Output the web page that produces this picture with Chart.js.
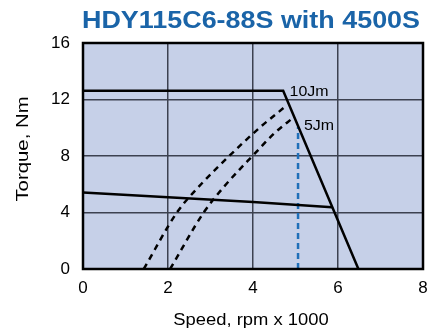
<!DOCTYPE html>
<html><head><meta charset="utf-8">
<script src="https://cdn.jsdelivr.net/npm/chart.js@4/dist/chart.umd.min.js"></script>
<style>html,body{margin:0;padding:0;background:#fff}</style>
</head><body>
<canvas id="c" width="440" height="331"></canvas>
<script>
const chartTitle = 'HDY115C6-88S with 4500S';
const xTitle = 'Speed, rpm x 1000';
const yTitle = 'Torque, Nm';
const xTicks = [0, 2, 4, 6, 8];
const yTicks = [0, 4, 8, 12, 16];
const peakSpeed = [0, 4.71, 6.48];
const peakTorque = [12.62, 12.62, 0];
const contSpeed = [0, 2, 4, 5.86];
const contTorque = [5.42, 5.08, 4.75, 4.38];
const j10Speed = [1.43, 2.21, 2.8, 3.44, 4.17, 4.74];
const j10Torque = [0, 4, 6.07, 8, 10.04, 11.45];
const j5Speed = [2.05, 2.84, 3.31, 4.05, 4.5, 4.96];
const j5Torque = [0, 4, 5.8, 8.2, 9.6, 10.75];
const markSpeed = [5.06, 5.06];
const markTorque = [0, 10.05];
const curveLabels = ['10Jm', '5Jm'];
const labelSpeed = [4.86, 5.2];
const labelTorque = [12.65, 10.2];

const FONT = '"Liberation Sans", Arial, sans-serif';
const pts = (xs, ys) => xs.map((x, i) => ({x, y: ys[i]}));

function stretchText(ctx, text, x, y, size, weight, sx, color, align, rot) {
  ctx.save();
  ctx.translate(x, y);
  if (rot) ctx.rotate(rot);
  ctx.scale(sx, 1);
  ctx.font = weight + ' ' + size + 'px ' + FONT;
  ctx.fillStyle = color;
  ctx.textAlign = align;
  ctx.textBaseline = 'alphabetic';
  ctx.fillText(text, 0, 0);
  ctx.restore();
}

const bgPlugin = {
  id: 'bg',
  beforeDraw(chart) {
    const {ctx, chartArea: a} = chart;
    ctx.save();
    ctx.fillStyle = '#c6d0e8';
    ctx.fillRect(a.left, a.top, a.right - a.left, a.bottom - a.top);
    ctx.restore();
  },
  afterDraw(chart) {
    const {ctx, chartArea: a, scales} = chart;
    ctx.save();
    ctx.strokeStyle = '#000';
    ctx.lineWidth = 2.5;
    ctx.strokeRect(a.left, a.top, a.right - a.left, a.bottom - a.top);
    ctx.restore();
    curveLabels.forEach((t, i) => {
      stretchText(ctx, t, scales.x.getPixelForValue(labelSpeed[i]), scales.y.getPixelForValue(labelTorque[i]) + 5.5,
        14.5, 'normal', 1.1, '#000', 'left', 0);
    });
    const cx = (a.left + a.right) / 2;
    stretchText(ctx, chartTitle, cx - 2, 28.3, 23, 'bold', 1.17, '#1a64a8', 'center', 0);
    stretchText(ctx, xTitle, cx - 2, 325, 16.3, 'normal', 1.13, '#000', 'center', 0);
    stretchText(ctx, yTitle, 28.3, (a.top + a.bottom) / 2 - 7, 16.3, 'normal', 1.25, '#000', 'center', -Math.PI / 2);
  }
};

const common = {showLine: true, pointRadius: 0, borderWidth: 2.5, fill: false, tension: 0};

new Chart(document.getElementById('c'), {
  type: 'scatter',
  data: {
    datasets: [
      {...common, data: pts(peakSpeed, peakTorque), borderColor: '#000'},
      {...common, data: pts(contSpeed, contTorque), borderColor: '#000'},
      {...common, data: pts(j10Speed, j10Torque), borderColor: '#000', borderDash: [6, 5], cubicInterpolationMode: 'monotone'},
      {...common, data: pts(j5Speed, j5Torque), borderColor: '#000', borderDash: [6, 5], cubicInterpolationMode: 'monotone'},
      {...common, data: pts(markSpeed, markTorque), borderColor: '#1f6fb8', borderDash: [6, 4]}
    ]
  },
  options: {
    responsive: false,
    animation: false,
    layout: {padding: {top: 43, right: 17, left: 0, bottom: 0}},
    plugins: {
      legend: {display: false},
      tooltip: {enabled: false},
      title: {display: false}
    },
    scales: {
      x: {
        type: 'linear', min: 0, max: 8,
        afterBuildTicks: s => { s.ticks = xTicks.map(v => ({value: v})); },
        grid: {color: '#3c4150', lineWidth: 1.5, drawTicks: false},
        border: {display: false},
        ticks: {color: '#000', padding: 9, font: {family: FONT, size: 17}},
        afterFit: s => { s.height = 62; }
      },
      y: {
        type: 'linear', min: 0, max: 16,
        afterBuildTicks: s => { s.ticks = yTicks.map(v => ({value: v})); },
        grid: {color: '#3c4150', lineWidth: 1.5, drawTicks: false},
        border: {display: false},
        ticks: {color: '#000', padding: 13, font: {family: FONT, size: 17}},
        afterFit: s => { s.width = 83; }
      }
    }
  },
  plugins: [bgPlugin]
});
</script>
</body></html>
